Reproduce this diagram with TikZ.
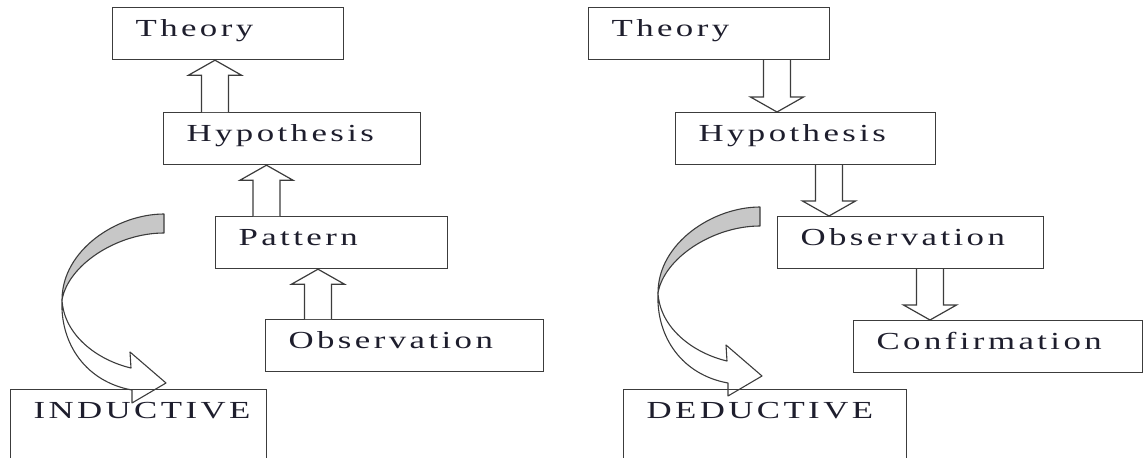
\documentclass[tikz,border=0pt]{standalone}
\usepackage{fontspec}
\setmainfont{Liberation Serif}[FakeStretch=1.42, LetterSpace=14]
\usetikzlibrary{positioning,calc}

\definecolor{ink}{RGB}{30,30,45}
\definecolor{edge}{RGB}{60,60,60}

\tikzset{
  box/.style={draw=edge, line width=1.2pt, rectangle, inner xsep=23pt, inner ysep=0pt,
    text height=29pt, text depth=23pt, align=left, anchor=north west, text=ink,
    font=\fontsize{24.5}{26}\selectfont},
  tallbox/.style={box, text depth=80pt},
  hollow/.style={draw=edge, line width=1.2pt, fill=white, line join=miter},
  curlarrow/.style={draw=edge, line width=1.1pt, line join=round}
}

% hollow block arrow, vertical: tail, tip
\newcommand{\fatarrow}[2]{%
  \draw[hollow] let \p1=(#1), \p2=(#2), \n1={ifthenelse(\y2>\y1,1,-1)} in
    (\x1-13.5pt,\y1) -- (\x1-13.5pt,\y2-15pt*\n1) -- (\x1-26.5pt,\y2-15pt*\n1) -- (\x1,\y2)
    -- (\x1+26.5pt,\y2-15pt*\n1) -- (\x1+13.5pt,\y2-15pt*\n1) -- (\x1+13.5pt,\y1);
}

\begin{document}
\begin{tikzpicture}[x=1pt,y=-1pt]

\useasboundingbox (0,0) rectangle (1144,458);
\clip (0,0) rectangle (1144,458);

% Boxes
\foreach \name/\x/\y/\tw/\txt in {
  theoL/112/7/185/Theory,
  hypL/163/112/211/Hypothesis,
  patL/215/216/186/Pattern,
  obsL/265/319/232/Observation,
  theoR/588/7/195/Theory,
  hypR/675/112/214/Hypothesis,
  obsR/777/216/220/Observation,
  confR/853/320/243/Confirmation
} {
  \node[box, text width=\tw pt] (\name) at (\x,\y) {\txt};
}
\node[tallbox, text width=210pt] (indL) at (10,389) {INDUCTIVE};
\node[tallbox, text width=237pt] (dedR) at (623,389) {DEDUCTIVE};

% Block arrows
\fatarrow{[xshift=52pt]hypL.north west}{theoL.south}
\fatarrow{[xshift=51.5pt]patL.north west}{hypL.south}
\fatarrow{[xshift=53pt]obsL.north west}{patL.south}
\fatarrow{[xshift=189pt]theoR.south west}{hypR.north}
\fatarrow{[xshift=154pt]hypR.south west}{obsR.north}
\fatarrow{[xshift=153pt]obsR.south west}{confR.north}

% Curved arrows
\coordinate (bendL) at (62,300);
\coordinate (bendR) at (658,293);
\foreach \c in {bendL,bendR} {
  \begin{scope}[shift={(\c)}]
    \filldraw[curlarrow, fill=black!22] (102,-86) .. controls (55,-86) and (0,-50) .. (0,0)
      .. controls (6,-35) and (55,-67) .. (102,-67) -- cycle;
    \draw[curlarrow] (0,0) .. controls (2,35) and (35,60) .. (69,68) -- (68,52) -- (104,83)
      -- (70,103) -- (70,90) .. controls (25,82) and (-2,45) .. (0,0) -- cycle;
  \end{scope}
}

\end{tikzpicture}
\end{document}
